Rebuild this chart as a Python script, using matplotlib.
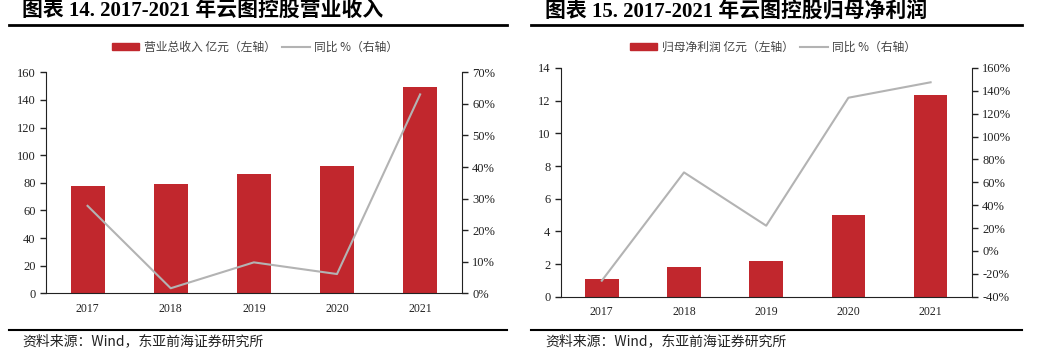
import matplotlib.pyplot as plt
from matplotlib.lines import Line2D
from matplotlib.patches import Patch
from matplotlib.ticker import FuncFormatter

plt.rcParams['font.family'] = ['Liberation Serif', 'Noto Sans CJK SC', 'DejaVu Sans']

years = ['2017', '2018', '2019', '2020', '2021']

# 营业收入 (亿元) and 同比 (%)
revenue = [77.9, 79.1, 86.4, 92.0, 149.6]
revenue_yoy = [27.7, 1.6, 9.8, 6.1, 63.0]

# 归母净利润 (亿元) and 同比 (%)
profit = [1.10, 1.82, 2.18, 5.02, 12.37]
profit_yoy = [-26.0, 68.7, 22.1, 134.0, 147.5]

bar_color = '#c1272d'
line_color = '#b3b3b3'
spine_color = '#222222'
cjk = ['Noto Sans CJK SC', 'DejaVu Sans']

fig = plt.figure(figsize=(10.5, 3.51), dpi=100)


def draw_panel(rect, bars, yoy, ylim, yticks, y2lim, y2ticks, title, bar_label,
               title_x, rule_x, leg_x):
    ax = fig.add_axes(rect)
    x = range(len(years))
    ax.bar(x, bars, width=0.41, color=bar_color, zorder=2)
    ax.set_xlim(-0.5, len(years) - 0.5)
    ax.set_ylim(*ylim)
    ax.set_yticks(yticks)
    ax.set_xticks(list(x))
    ax.set_xticklabels(years)
    ax.tick_params(axis='x', length=0, pad=7, labelsize=8.5, colors='#222222')
    ax.tick_params(axis='y', length=4, width=1, labelsize=9, colors='#222222')
    ax.spines['top'].set_visible(False)
    ax.spines['right'].set_visible(False)
    for s in ['left', 'bottom']:
        ax.spines[s].set_color(spine_color)

    ax2 = ax.twinx()
    ax2.plot(x, yoy, color=line_color, linewidth=1.5)
    ax2.set_ylim(*y2lim)
    ax2.set_yticks(y2ticks)
    ax2.yaxis.set_major_formatter(FuncFormatter(lambda v, p: f'{v:.0f}%'))
    ax2.tick_params(axis='y', length=4, width=1, labelsize=9, colors='#222222')
    ax2.spines['top'].set_visible(False)
    ax2.spines['left'].set_visible(False)
    ax2.spines['bottom'].set_visible(False)
    ax2.spines['right'].set_color(spine_color)

    handles = [Patch(color=bar_color, label=bar_label),
               Line2D([], [], color=line_color, linewidth=1.5, label='同比 %（右轴）')]
    fig.legend(handles=handles, loc='center', bbox_to_anchor=(leg_x, 1 - 47 / 351),
               ncol=2, frameon=False, handlelength=2.3, handleheight=0.6,
               handletextpad=0.4, columnspacing=0.6,
               prop={'family': cjk, 'size': 8.5}, labelcolor='#444444')

    fig.text(title_x, 1 - 11 / 351, title, fontsize=15, fontweight='bold',
             va='center', ha='left')
    fig.text(title_x, 1 - 341 / 351, '资料来源：Wind，东亚前海证券研究所',
             fontsize=10, va='center', ha='left', family=cjk, color='#222222')
    fig.add_artist(Line2D(rule_x, [1 - 25 / 351] * 2, color='black', linewidth=2))
    fig.add_artist(Line2D(rule_x, [1 - 330 / 351] * 2, color='black', linewidth=1.5))


draw_panel([46 / 1050, 1 - 293.3 / 351, 415.7 / 1050, 221 / 351],
           revenue, revenue_yoy, (0, 160), range(0, 161, 20),
           (0, 70), range(0, 71, 10),
           '图表 14. 2017-2021 年云图控股营业收入', '营业总收入 亿元（左轴）',
           22 / 1050, [9 / 1050, 507 / 1050], 255 / 1050)

draw_panel([560.7 / 1050, 1 - 296.7 / 351, 411 / 1050, 228.7 / 351],
           profit, profit_yoy, (0, 14), range(0, 15, 2),
           (-40, 160), range(-40, 161, 20),
           '图表 15. 2017-2021 年云图控股归母净利润', '归母净利润 亿元（左轴）',
           545 / 1050, [531 / 1050, 1022 / 1050], 773 / 1050)

fig.savefig('out.png', dpi=100)
